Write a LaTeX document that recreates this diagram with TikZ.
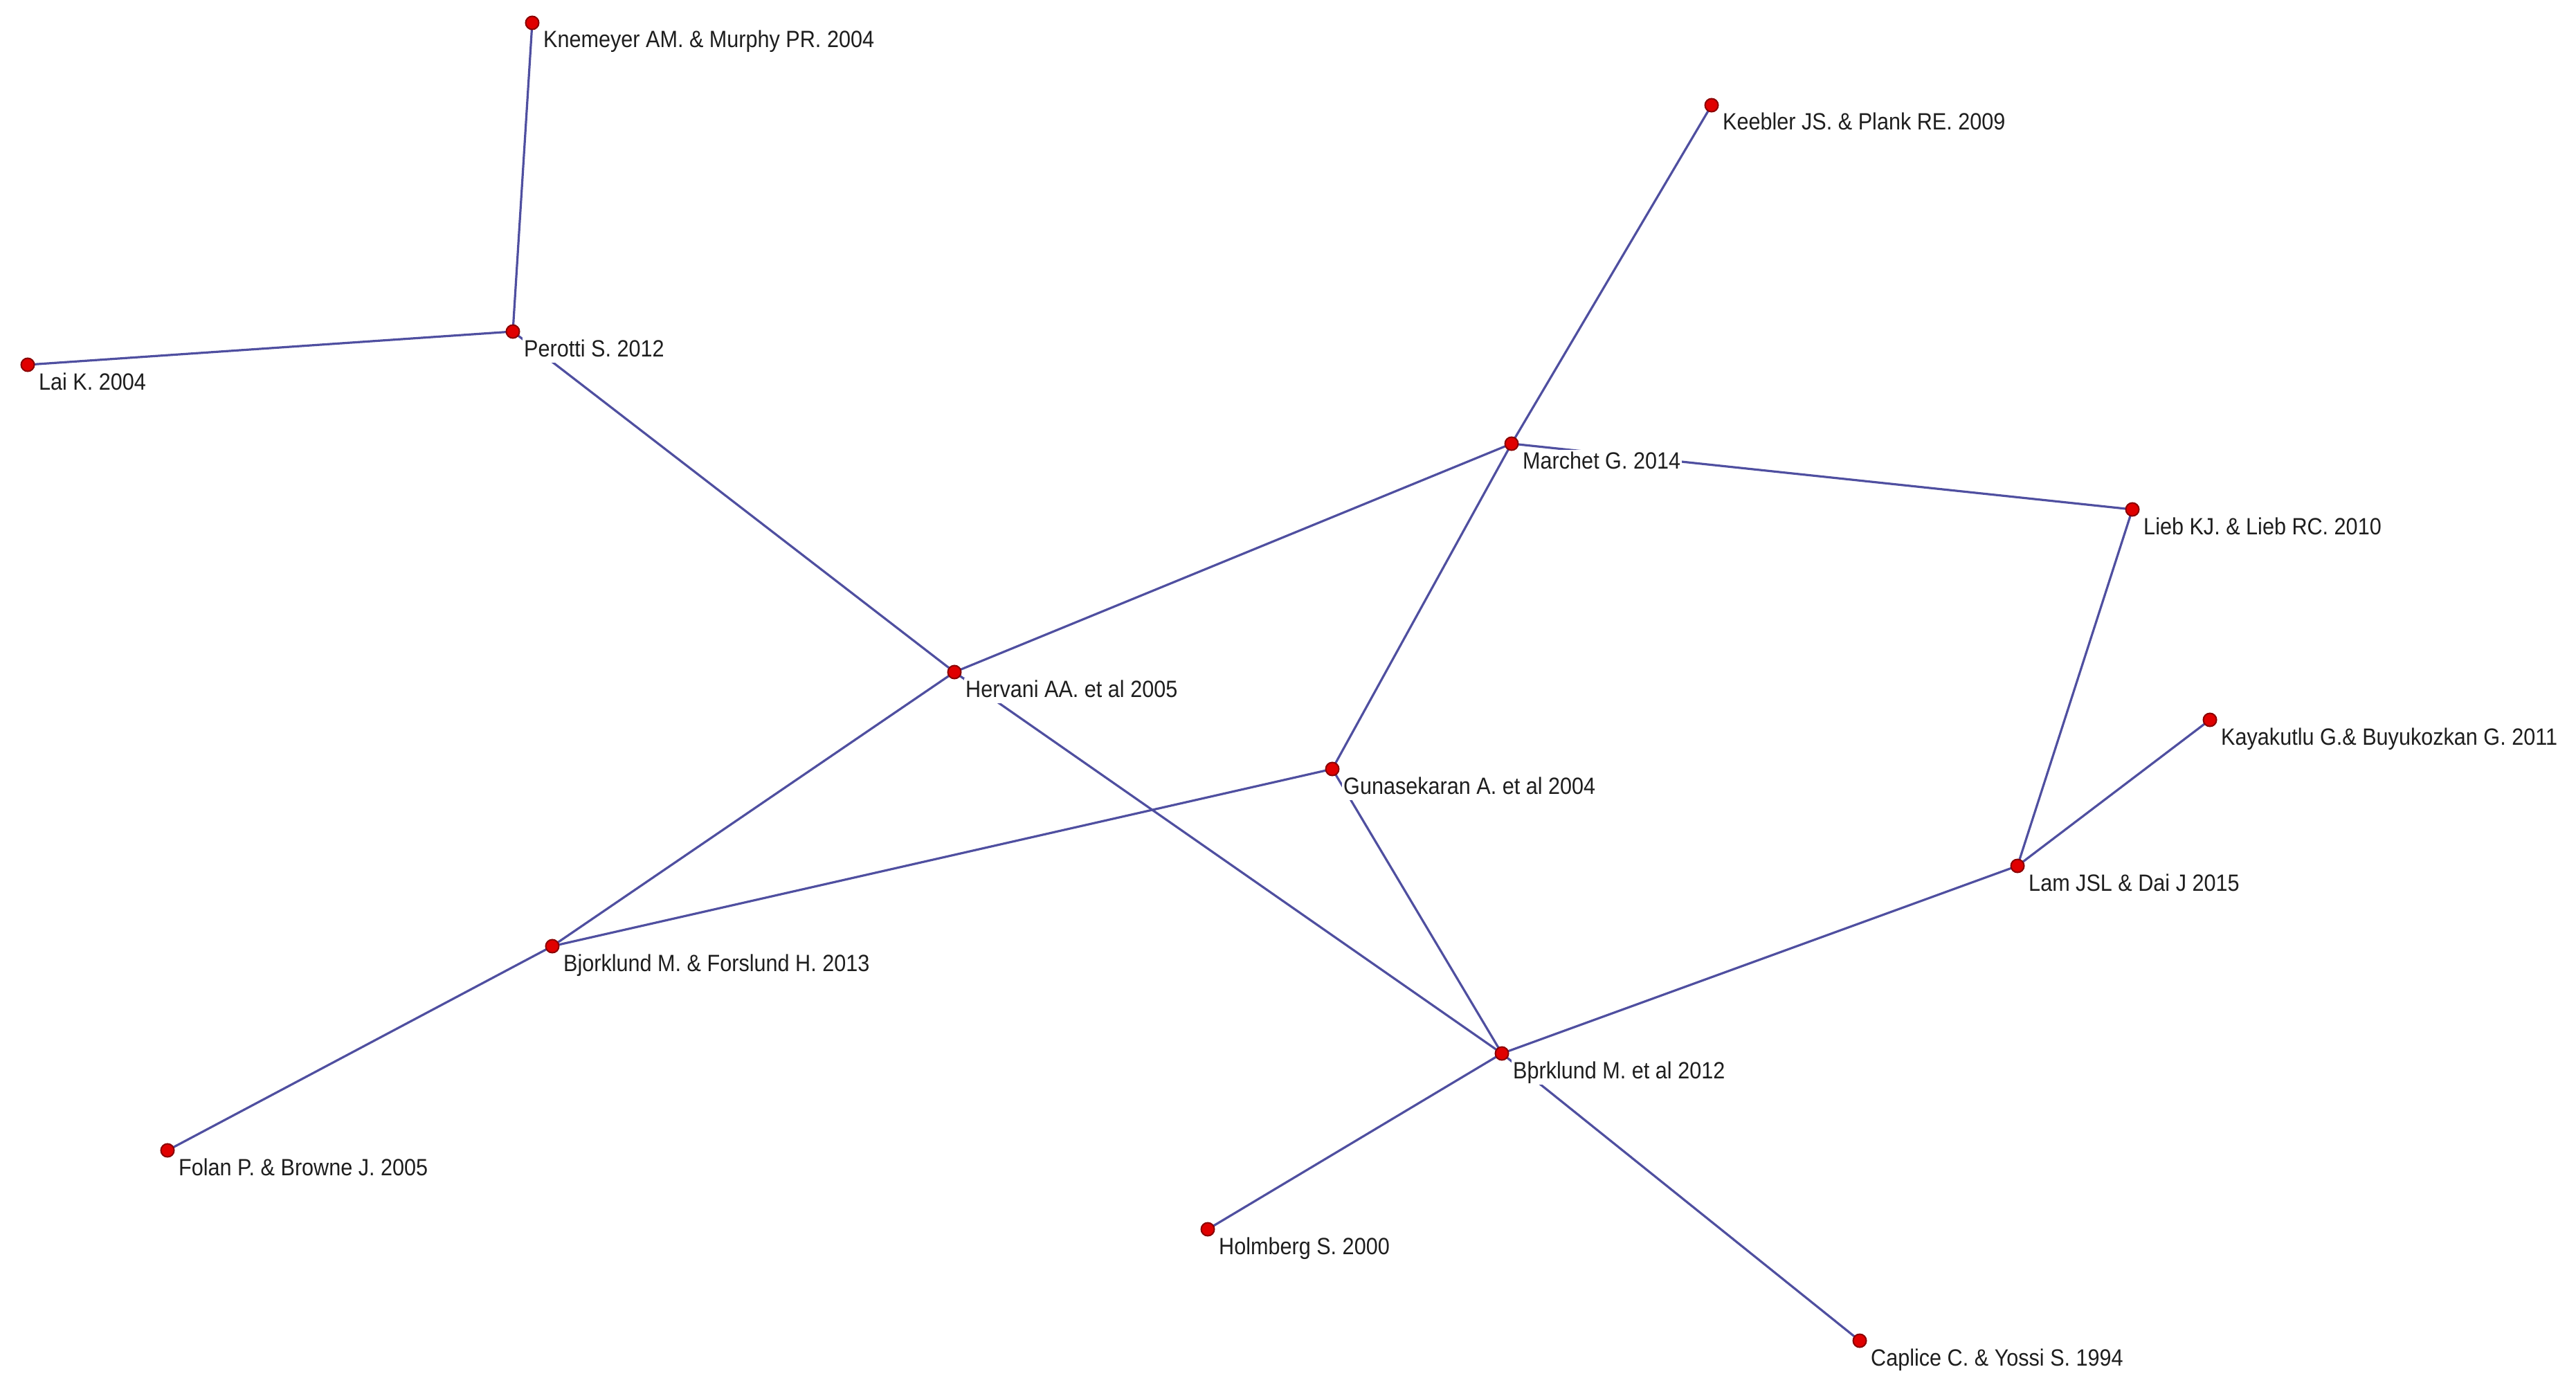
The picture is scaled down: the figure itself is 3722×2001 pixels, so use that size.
\documentclass[tikz,border=0pt]{standalone}
\usepackage{fontspec}
\setmainfont{Liberation Sans}[FakeStretch=0.9]
\usetikzlibrary{calc}
\definecolor{edgec}{HTML}{4F4FA0}
\definecolor{dotfill}{HTML}{E00000}
\definecolor{dotline}{HTML}{8A0000}
\definecolor{txt}{HTML}{1E1E1E}
\pgfdeclarelayer{bg}
\pgfdeclarelayer{paper}
\pgfsetlayers{paper,bg,main}
\tikzset{
  pt/.style={circle, fill=dotfill, draw=dotline, line width=2pt, minimum size=19pt, inner sep=0pt},
  lbl/.style={fill=white, inner sep=2pt, text=txt, anchor=west, font=\fontsize{34}{37}\selectfont, text height=25pt, text depth=7pt},
  edge/.style={draw=edgec, line width=3.2pt}
}
\begin{document}
\begin{tikzpicture}[x=1pt,y=-1pt]
\begin{pgfonlayer}{paper}
\useasboundingbox[fill=white] (0,0) rectangle (3722,2001);
\end{pgfonlayer}
% point nodes
\node[pt] (kn)   at (769,33) {};
\node[pt] (lai)  at (40,527) {};
\node[pt] (per)  at (741,479) {};
\node[pt] (kee)  at (2473,152) {};
\node[pt] (mar)  at (2184,641) {};
\node[pt] (lieb) at (3081,736) {};
\node[pt] (her)  at (1379,971) {};
\node[pt] (gun)  at (1925,1111) {};
\node[pt] (kay)  at (3193,1040) {};
\node[pt] (lam)  at (2915,1251) {};
\node[pt] (bf)   at (798,1367) {};
\node[pt] (b12)  at (2170,1522) {};
\node[pt] (fol)  at (242,1662) {};
\node[pt] (hol)  at (1745,1776) {};
\node[pt] (cap)  at (2687,1937) {};
% edges
\begin{pgfonlayer}{bg}
\draw[edge] (kn.center) -- (per.center);
\draw[edge] (lai.center) -- (per.center);
\draw[edge] (per.center) -- (her.center);
\draw[edge] (her.center) -- (b12.center);
\draw[edge] (her.center) -- (mar.center);
\draw[edge] (her.center) -- (bf.center);
\draw[edge] (kee.center) -- (mar.center);
\draw[edge] (mar.center) -- (gun.center);
\draw[edge] (mar.center) -- (lieb.center);
\draw[edge] (lieb.center) -- (lam.center);
\draw[edge] (kay.center) -- (lam.center);
\draw[edge] (lam.center) -- (b12.center);
\draw[edge] (gun.center) -- (b12.center);
\draw[edge] (gun.center) -- (bf.center);
\draw[edge] (bf.center) -- (fol.center);
\draw[edge] (b12.center) -- (hol.center);
\draw[edge] (b12.center) -- (cap.center);
\end{pgfonlayer}
% labels
\node[lbl] (kn-t)   at ($(kn)+(14,27)$)   {Knemeyer AM. \& Murphy PR. 2004};
\node[lbl] (lai-t)  at ($(lai)+(14,27)$)  {Lai K. 2004};
\node[lbl] (per-t)  at ($(per)+(14,27)$)  {Perotti S. 2012};
\node[lbl] (kee-t)  at ($(kee)+(14,27)$)  {Keebler JS. \& Plank RE. 2009};
\node[lbl] (mar-t)  at ($(mar)+(14,27)$)  {Marchet G. 2014};
\node[lbl] (lieb-t) at ($(lieb)+(14,27)$) {Lieb KJ. \& Lieb RC. 2010};
\node[lbl] (her-t)  at ($(her)+(14,27)$)  {Hervani AA. et al 2005};
\node[lbl] (gun-t)  at ($(gun)+(14,27)$)  {Gunasekaran A. et al 2004};
\node[lbl] (kay-t)  at ($(kay)+(14,27)$)  {Kayakutlu G.\& Buyukozkan G. 2011};
\node[lbl] (lam-t)  at ($(lam)+(14,27)$)  {Lam JSL \& Dai J 2015};
\node[lbl] (bf-t)   at ($(bf)+(14,27)$)   {Bjorklund M. \& Forslund H. 2013};
\node[lbl] (b12-t)  at ($(b12)+(14,27)$)  {Bþrklund M. et al 2012};
\node[lbl] (fol-t)  at ($(fol)+(14,27)$)  {Folan P. \& Browne J. 2005};
\node[lbl] (hol-t)  at ($(hol)+(14,27)$)  {Holmberg S. 2000};
\node[lbl] (cap-t)  at ($(cap)+(14,27)$)  {Caplice C. \& Yossi S. 1994};
\end{tikzpicture}
\end{document}
